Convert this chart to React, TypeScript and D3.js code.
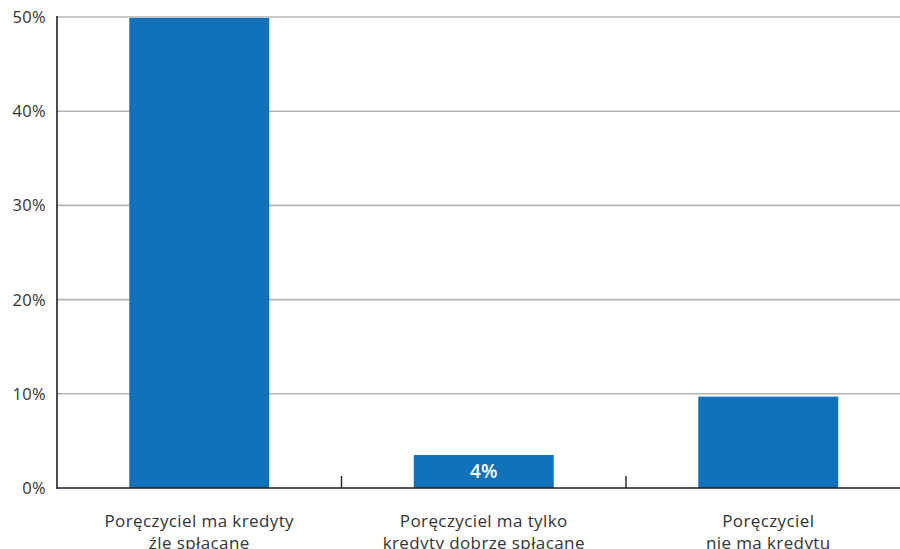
import React from "react";
import * as d3 from "d3";

// Share of cases by guarantor credit situation
const categories = [
  ["Poręczyciel ma kredyty", "źle spłacane"],
  ["Poręczyciel ma tylko", "kredyty dobrze spłacane"],
  ["Poręczyciel", "nie ma kredytu"],
];
const values = [0.499, 0.035, 0.097];
const labelled = [false, true, false];
const yTicks = [0, 0.1, 0.2, 0.3, 0.4, 0.5];

const W = 900;
const H = 549;
const left = 57;
const top = 17;
const bottom = 488;
const step = 284.5;

export default function App() {
  const keys = categories.map((c) => c.join(" "));
  const x = d3
    .scaleBand<string>()
    .domain(keys)
    .range([left, left + step * keys.length])
    .paddingInner(0.508)
    .paddingOuter(0.254);
  const y = d3.scaleLinear().domain([0, 0.5]).range([bottom, top]);
  const pct = d3.format(".0%");
  const font = "'Open Sans', sans-serif";
  const boundaries = keys.slice(1).map((k) => (x(k) as number) - (x.step() * x.paddingInner()) / 2);

  return (
    <svg
      width={W}
      height={H}
      style={{ position: "absolute", left: 0, top: 0, display: "block" }}
      fontFamily={font}
    >
      <rect width={W} height={H} fill="#fff" />
      {yTicks.slice(1).map((t) => (
        <line key={t} x1={left} x2={W} y1={y(t)} y2={y(t)} stroke="#b3b3b3" strokeWidth={1.6} />
      ))}
      {yTicks.map((t) => (
        <text
          key={"l" + t}
          x={46}
          y={y(t)}
          dy="0.36em"
          textAnchor="end"
          fontSize={16.5}
          letterSpacing={0.3}
          fill="#333"
        >
          {pct(t)}
        </text>
      ))}
      {keys.map((k, i) => (
        <g key={k}>
          <rect
            x={x(k)}
            y={y(values[i])}
            width={x.bandwidth()}
            height={bottom - y(values[i])}
            fill="#1172ba"
          />
          {labelled[i] && (
            <text
              x={(x(k) as number) + x.bandwidth() / 2}
              y={(y(values[i]) + bottom) / 2}
              dy="0.36em"
              textAnchor="middle"
              fontSize={19}
              fontWeight={600}
              fill="#fff"
            >
              {pct(values[i])}
            </text>
          )}
          {categories[i].map((line, j) => (
            <text
              key={j}
              x={(x(k) as number) + x.bandwidth() / 2}
              y={527 + j * 21.5}
              textAnchor="middle"
              fontSize={17}
              letterSpacing={0.4}
              fill="#333"
            >
              {line}
            </text>
          ))}
        </g>
      ))}
      <line x1={left} x2={left} y1={top - 1} y2={bottom + 1} stroke="#231f20" strokeWidth={1.6} />
      <line x1={left} x2={W} y1={bottom} y2={bottom} stroke="#231f20" strokeWidth={1.6} />
      {boundaries.map((b) => (
        <line key={b} x1={b} x2={b} y1={bottom} y2={bottom - 12} stroke="#231f20" strokeWidth={1.4} />
      ))}
    </svg>
  );
}
